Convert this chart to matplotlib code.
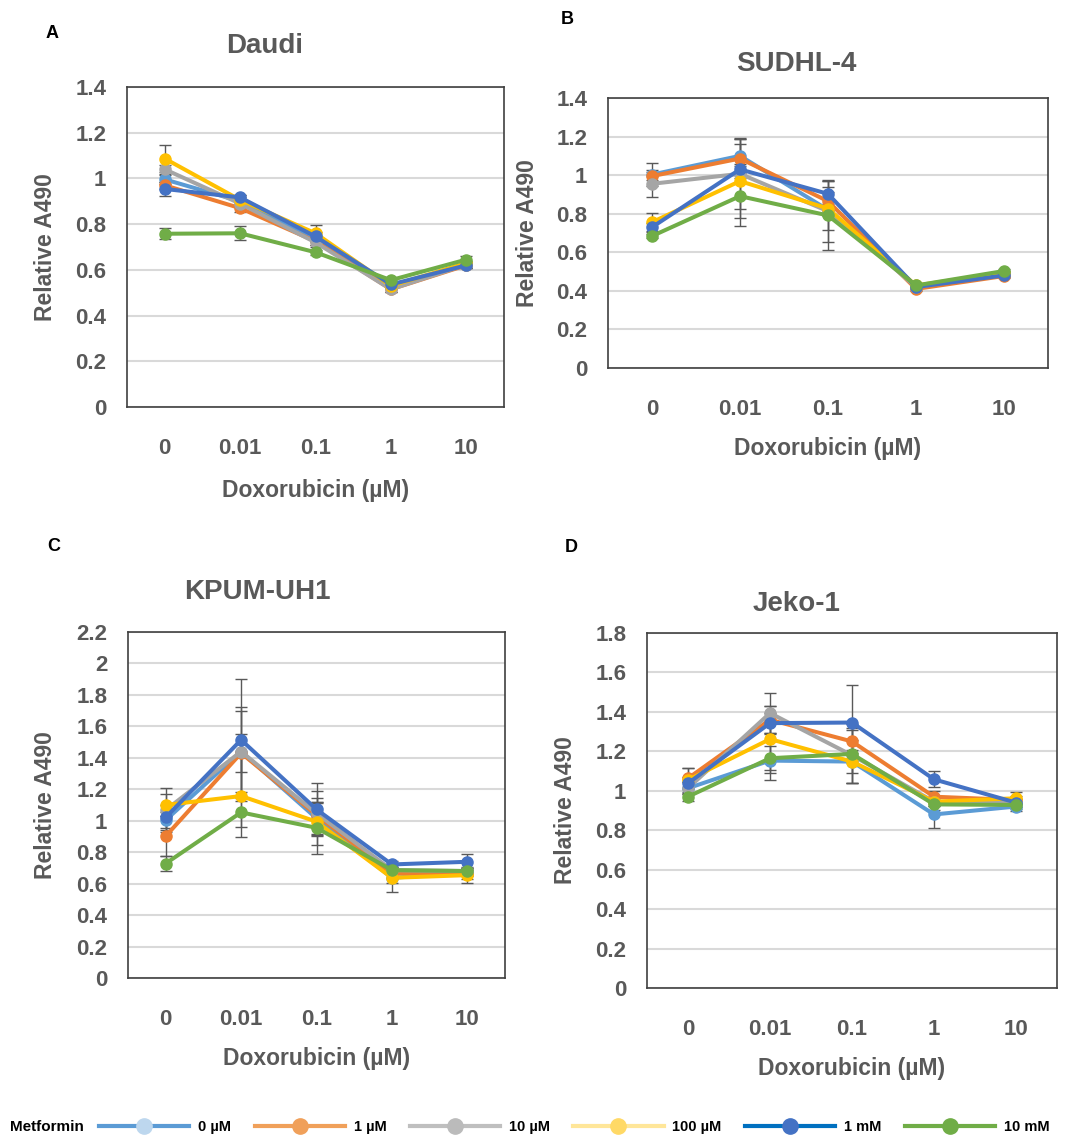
import matplotlib
matplotlib.use("Agg")
import matplotlib.pyplot as plt
from matplotlib.lines import Line2D

plt.rcParams["font.family"] = ["Liberation Sans", "DejaVu Sans"]
plt.rcParams["font.weight"] = "bold"

# Categories and series
doxo_labels = ["0", "0.01", "0.1", "1", "10"]
metformin_labels = ["0 µM", "1 µM", "10 µM", "100 µM", "1 mM", "10 mM"]
series_colors = ["#5B9BD5", "#ED7D31", "#A5A5A5", "#FFC000", "#4472C4", "#70AD47"]

# Legend swatch colours (slightly different from the chart lines in the original)
legend_line_colors = ["#5B9BD5", "#F0A05A", "#BFBFBF", "#FFE699", "#0070C0", "#70AD47"]
legend_marker_colors = ["#BDD7EE", "#F0A05A", "#BBBBBB", "#FFD966", "#4472C4", "#70AD47"]

# Panel A: Daudi
daudi_mean = [
    [0.996, 0.900, 0.730, 0.530, 0.620],
    [0.970, 0.870, 0.725, 0.515, 0.620],
    [1.040, 0.890, 0.720, 0.515, 0.623],
    [1.087, 0.906, 0.760, 0.530, 0.630],
    [0.954, 0.917, 0.746, 0.536, 0.620],
    [0.758, 0.760, 0.677, 0.555, 0.645],
]
daudi_err = [
    [0.020, 0.020, 0.020, 0.010, 0.010],
    [0.015, 0.015, 0.015, 0.010, 0.010],
    [0.020, 0.015, 0.020, 0.010, 0.010],
    [0.060, 0.020, 0.035, 0.010, 0.010],
    [0.030, 0.010, 0.020, 0.010, 0.010],
    [0.025, 0.030, 0.010, 0.010, 0.015],
]

# Panel B: SUDHL-4
sudhl4_mean = [
    [1.003, 1.100, 0.820, 0.425, 0.485],
    [0.995, 1.086, 0.865, 0.410, 0.477],
    [0.955, 1.007, 0.813, 0.420, 0.490],
    [0.756, 0.969, 0.827, 0.428, 0.494],
    [0.730, 1.030, 0.903, 0.420, 0.480],
    [0.684, 0.891, 0.791, 0.428, 0.503],
]
sudhl4_err = [
    [0.060, 0.090, 0.030, 0.010, 0.010],
    [0.020, 0.100, 0.050, 0.010, 0.010],
    [0.070, 0.180, 0.158, 0.010, 0.010],
    [0.050, 0.190, 0.110, 0.010, 0.010],
    [0.020, 0.030, 0.070, 0.010, 0.010],
    [0.010, 0.155, 0.180, 0.010, 0.010],
]

# Panel C: KPUM-UH1
kpum_mean = [
    [1.004, 1.440, 1.015, 0.637, 0.669],
    [0.902, 1.430, 1.036, 0.665, 0.660],
    [1.068, 1.440, 1.047, 0.686, 0.680],
    [1.100, 1.157, 0.994, 0.637, 0.654],
    [1.021, 1.514, 1.072, 0.722, 0.739],
    [0.728, 1.053, 0.955, 0.686, 0.680],
]
kpum_err = [
    [0.050, 0.260, 0.100, 0.090, 0.020],
    [0.127, 0.120, 0.080, 0.030, 0.030],
    [0.140, 0.280, 0.140, 0.020, 0.020],
    [0.070, 0.260, 0.150, 0.030, 0.050],
    [0.080, 0.390, 0.166, 0.020, 0.050],
    [0.050, 0.090, 0.165, 0.020, 0.020],
]

# Panel D: Jeko-1
jeko_mean = [
    [1.013, 1.153, 1.148, 0.880, 0.920],
    [1.063, 1.360, 1.250, 0.970, 0.953],
    [1.013, 1.394, 1.180, 0.945, 0.936],
    [1.055, 1.262, 1.148, 0.945, 0.962],
    [1.038, 1.343, 1.346, 1.058, 0.940],
    [0.970, 1.165, 1.187, 0.931, 0.928],
]
jeko_err = [
    [0.030, 0.100, 0.060, 0.070, 0.020],
    [0.050, 0.070, 0.060, 0.030, 0.020],
    [0.030, 0.100, 0.140, 0.020, 0.020],
    [0.060, 0.170, 0.110, 0.020, 0.030],
    [0.030, 0.050, 0.190, 0.040, 0.020],
    [0.020, 0.060, 0.150, 0.030, 0.020],
]

W, H = 1070, 1135
TEXT_GRAY = "#595959"


def px_rect(left, top, right, bottom):
    return [left / W, 1 - bottom / H, (right - left) / W, (bottom - top) / H]


def fig_text(fig, x, y, s, **kw):
    fig.text(x / W, 1 - y / H, s, **kw)


def draw_panel(fig, rect, means, errs, ymax, title, letter, pos):
    ax = fig.add_axes(px_rect(*rect))
    x = list(range(len(doxo_labels)))
    for mean, err, color in zip(means, errs, series_colors):
        ax.errorbar(
            x, mean, yerr=err,
            color=color, lw=2.9, marker="o", ms=8,
            ecolor="#595959", elinewidth=1.0, capsize=4, capthick=1.0,
        )
    ax.set_xlim(-0.5, len(x) - 0.5)
    ax.set_ylim(0, ymax)
    ax.set_xticks(x)
    ax.set_xticklabels(doxo_labels)
    ticks = [round(0.2 * i, 1) for i in range(int(round(ymax / 0.2)) + 1)]
    ax.set_yticks(ticks)
    ax.set_yticklabels([f"{t:g}" for t in ticks])
    ax.tick_params(length=0, labelsize=16, labelcolor=TEXT_GRAY)
    ax.tick_params(axis="y", pad=15)
    ax.tick_params(axis="x", pad=22)
    ax.grid(axis="y", color="#D9D9D9", lw=1.5)
    ax.set_axisbelow(True)
    for sp in ax.spines.values():
        sp.set_color("#404040")
        sp.set_linewidth(1.2)

    left, top, right, bottom = rect
    fig_text(fig, pos["title"][0], pos["title"][1], title, fontsize=20,
             color=TEXT_GRAY, ha="center", va="center")
    fig_text(fig, pos["letter"][0], pos["letter"][1], letter, fontsize=13,
             color="black", ha="center", va="center")
    fig_text(fig, pos["ylabel"], (top + bottom) / 2, "Relative A490",
             fontsize=16.5, color=TEXT_GRAY, rotation=90, ha="center", va="center")
    fig_text(fig, (left + right) / 2, pos["xlabel"], "Doxorubicin (µM)",
             fontsize=16.5, color=TEXT_GRAY, ha="center", va="center")
    return ax


def main() -> None:
    fig = plt.figure(figsize=(W / 100, H / 100), dpi=100)

    draw_panel(fig, (127, 87, 504, 407), daudi_mean, daudi_err, 1.4, "Daudi", "A",
               {"title": (265, 46), "letter": (52, 33), "ylabel": 46, "xlabel": 490})
    draw_panel(fig, (608, 98, 1048, 368), sudhl4_mean, sudhl4_err, 1.4, "SUDHL-4", "B",
               {"title": (796, 64), "letter": (567, 20), "ylabel": 528, "xlabel": 448})
    draw_panel(fig, (128, 632, 505, 978), kpum_mean, kpum_err, 2.2, "KPUM-UH1", "C",
               {"title": (257, 592), "letter": (54, 546), "ylabel": 46, "xlabel": 1058})
    draw_panel(fig, (647, 633, 1057, 988), jeko_mean, jeko_err, 1.8, "Jeko-1", "D",
               {"title": (797, 604), "letter": (571, 548), "ylabel": 565, "xlabel": 1068})

    handles = [
        Line2D([], [], color=lc, lw=3, marker="o", ms=11,
               markerfacecolor=mc, markeredgecolor=mc)
        for lc, mc in zip(legend_line_colors, legend_marker_colors)
    ]
    fig_text(fig, 10, 1127, "Metformin", fontsize=11, color="black",
             ha="left", va="center")
    fig.legend(
        handles, metformin_labels,
        loc="center left", bbox_to_anchor=(99 / W, 1 - 1127 / H),
        ncol=6, frameon=False, fontsize=10.5,
        handlelength=6.2, handletextpad=0.6, columnspacing=1.6,
        borderpad=0, borderaxespad=0,
    )

    fig.savefig("out.png", dpi=100)


if __name__ == "__main__":
    main()
